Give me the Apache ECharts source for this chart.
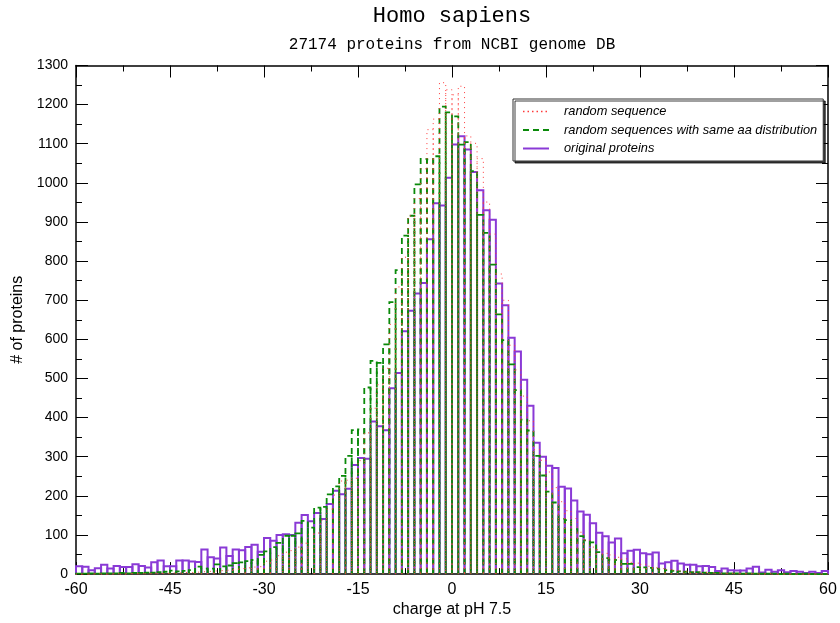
<!DOCTYPE html>
<html>
<head>
<meta charset="utf-8">
<script src="https://cdn.jsdelivr.net/npm/echarts@6/dist/echarts.min.js"></script>
<style>
html,body{margin:0;padding:0;background:#fff;}
#chart{width:840px;height:623px;}
</style>
</head>
<body>
<div id="chart"></div>
<script>
// ---- data ----
const titleText = 'Homo sapiens';
const subtitleText = '27174 proteins from NCBI genome DB';
const xName = 'charge at pH 7.5';
const yName = '# of proteins';
const seriesNames = ['random sequence', 'random sequences with same aa distribution', 'original proteins'];

// bins of width 1, left edges from -60 to 59
const binLefts = Array.from({length: 120}, (_, i) => -60 + i);

// random sequence (red, dotted)
const randomSeq = [
  0,0,0,1,0,0,1,0,1,1, 1,1,2,2,2,3,3,4,4,5,
  6,7,8,9,10,12,14,16,18,19,
  33,36,47,56,60,69,79,102,105,138, 166,202,238,240,245,290,
  361,424,484,526,638,734,810,916,960,1036,1136,1163,1256,1238,
  1225,1247,1120,1101,1062,951,869,767,700,585,522,455,392,318,291,
  261,221,185,162,142,107,87,69,62,53,49,43,39,30,28,
  25,20,16,14,12,10,8,7,6,5, 4,3,3,2,2,1,1,1,1,0, 1,0,0,0,0,0,0,0,0,0
];

// random sequences with same aa distribution (green, dashed)
const sameAaSeq = [
  1,1,2,1,2,2,2,3,2,3, 3,4,4,5,6,9,7,8,10,19,
  14,14,25,20,22,28,30,33,36,49,
  58,69,80,98,98,104,136,119,170,172, 204,224,251,302,368,370,
  477,545,540,587,695,777,865,916,996,1061,1060,1068,1195,1180,
  1170,1098,1104,1030,918,872,791,664,598,536,470,395,367,302,252,
  211,183,141,138,115,97,86,81,56,41,37,36,26,26,18,
  17,16,14,12,10,8,7,6,5,5, 4,3,3,2,2,2,1,2,1,1, 1,1,0,1,0,0,1,0,0,0
];

// original proteins (purple, solid)
const originalProteins = [
  20,19,10,15,24,14,21,18,18,25, 21,17,30,35,20,20,35,35,32,31,
  63,43,40,68,46,63,61,69,75,57,
  92,85,100,102,100,131,151,135,156,141, 179,213,204,218,279,297,
  295,390,378,368,475,514,621,673,717,744,856,948,942,1013,
  1098,1119,1085,1028,981,930,906,743,687,604,569,497,430,336,300,
  277,271,223,219,188,160,152,130,106,97,81,91,53,60,62,
  53,51,55,27,30,34,27,24,24,20, 21,18,8,14,10,9,9,14,19,4, 11,6,10,5,8,6,3,6,3,8
];

const xTickMin = -60, xTickMax = 60, xTickStep = 15;
const yTickMin = 0, yTickMax = 1300, yTickStep = 100;

// ---- styles ----
const styles = [
  {color: '#ff3a3a', width: 1, dash: [1, 4]},
  {color: '#0a8a0a', width: 1.8, dash: [6, 4]},
  {color: '#8a3ad6', width: 2, dash: null}
];
const legendLineTypes = [[1.5, 3], [6, 4], 'solid'];
const legendLineWidths = [1.5, 2, 2];
const dataSets = [randomSeq, sameAaSeq, originalProteins];

function makeRender(st) {
  return function (params, api) {
    const x0 = api.value(0);
    const v = api.value(1);
    const p0 = api.coord([x0, 0]);
    const p1 = api.coord([x0, v]);
    const p2 = api.coord([x0 + 1, v]);
    const p3 = api.coord([x0 + 1, 0]);
    return {
      type: 'polyline',
      shape: {points: [p0, p1, p2, p3]},
      style: {fill: null, stroke: st.color, lineWidth: st.width, lineDash: st.dash}
    };
  };
}

// draw order: purple first, then green, then red on top
const histSeries = [2, 1, 0].map(k => ({
  type: 'custom',
  name: 'hist' + k,
  xAxisIndex: 0, yAxisIndex: 0,
  renderItem: makeRender(styles[k]),
  data: binLefts.map((b, i) => [b, dataSets[k][i]]),
  encode: {x: 0, y: 1},
  silent: true,
  animation: false
}));

const legendSeries = [0, 1, 2].map(k => ({
  type: 'line',
  name: seriesNames[k],
  data: [],
  symbol: 'none',
  lineStyle: {color: styles[k].color, width: legendLineWidths[k], type: legendLineTypes[k]},
  itemStyle: {color: styles[k].color}
}));

const tickCommon = {inside: true, length: 12, lineStyle: {color: '#000', width: 1}};
const minorCommon = {show: true, splitNumber: 2, length: 6, lineStyle: {color: '#000', width: 1}};
const axisLineCommon = {show: true, onZero: false, lineStyle: {color: '#000', width: 1.5}};

const option = {
  backgroundColor: '#fff',
  animation: false,
  title: [
    {text: titleText, left: 447, top: 0, textAlign: 'center',
     textStyle: {fontFamily: 'Liberation Mono', fontWeight: 'normal', fontSize: 22, color: '#000'}},
    {text: subtitleText, left: 447, top: 32, textAlign: 'center',
     textStyle: {fontFamily: 'Liberation Mono', fontWeight: 'normal', fontSize: 16, color: '#000'}}
  ],
  legend: {
    data: seriesNames,
    orient: 'vertical',
    left: 513, top: 99,
    padding: [6, 6, 6, 9],
    itemGap: 5.5,
    itemWidth: 26, itemHeight: 14,
    borderColor: '#333', borderWidth: 1,
    backgroundColor: '#fff',
    shadowColor: 'rgba(0,0,0,0.75)', shadowOffsetX: 2, shadowOffsetY: 2, shadowBlur: 0,
    selectedMode: false,
    itemStyle: {opacity: 0},
    lineStyle: {width: 'inherit'},
    textStyle: {fontFamily: 'Liberation Sans', fontStyle: 'italic', fontSize: 12.8, color: '#000', padding: [0, 0, 0, 10]}
  },
  grid: {left: 76, right: 12, top: 65.5, bottom: 46, containLabel: false},
  xAxis: [
    {type: 'value', min: xTickMin, max: xTickMax, interval: xTickStep, position: 'bottom',
     name: xName, nameLocation: 'middle', nameGap: 23,
     nameTextStyle: {fontFamily: 'Liberation Sans', fontSize: 16, color: '#000'},
     axisLine: axisLineCommon, axisTick: tickCommon, minorTick: minorCommon,
     splitLine: {show: false},
     axisLabel: {fontFamily: 'Liberation Sans', fontSize: 16, color: '#000', margin: 7}},
    {type: 'value', min: xTickMin, max: xTickMax, interval: xTickStep, position: 'top',
     axisLine: axisLineCommon, axisTick: tickCommon, minorTick: minorCommon,
     splitLine: {show: false}, axisLabel: {show: false}}
  ],
  yAxis: [
    {type: 'value', min: yTickMin, max: yTickMax, interval: yTickStep, position: 'left',
     name: yName, nameLocation: 'middle', nameGap: 44,
     nameTextStyle: {fontFamily: 'Liberation Sans', fontSize: 16, color: '#000'},
     axisLine: axisLineCommon, axisTick: tickCommon, minorTick: minorCommon,
     splitLine: {show: false},
     axisLabel: {fontFamily: 'Liberation Sans', fontSize: 14, color: '#000', margin: 8,
                 formatter: v => String(v)}},
    {type: 'value', min: yTickMin, max: yTickMax, interval: yTickStep, position: 'right',
     axisLine: axisLineCommon, axisTick: tickCommon, minorTick: minorCommon,
     splitLine: {show: false}, axisLabel: {show: false}}
  ],
  series: legendSeries.concat(histSeries)
};

const chart = echarts.init(document.getElementById('chart'), null, {renderer: 'canvas'});
chart.setOption(option);
</script>
</body>
</html>
